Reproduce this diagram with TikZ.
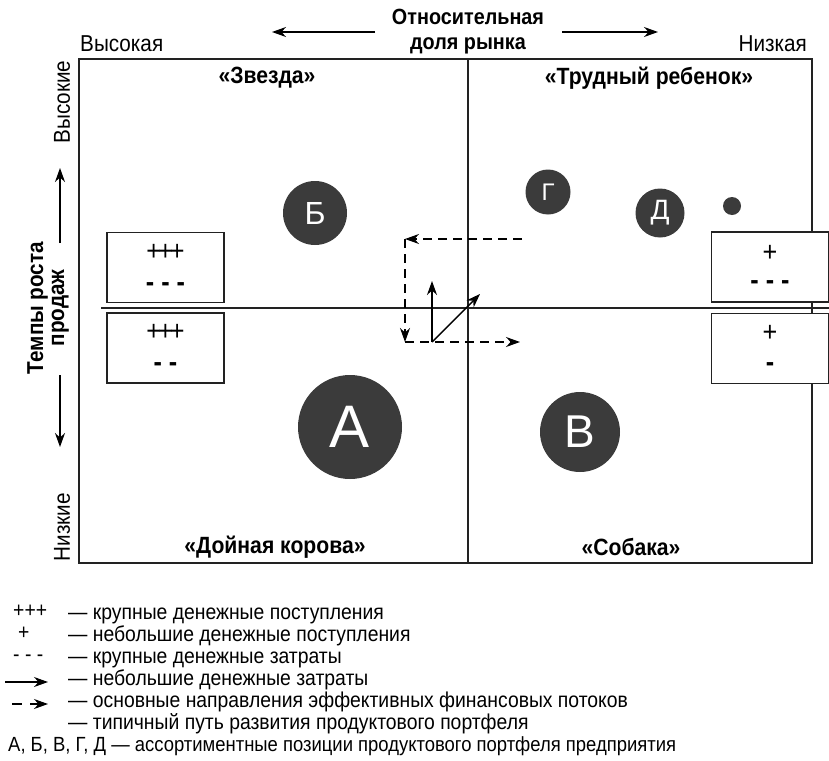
\documentclass[tikz,border=0pt]{standalone}
\usepackage{fontspec}
\setmainfont{Liberation Sans}[FakeStretch=0.9]
\newfontfamily\letterfont{Liberation Sans}
\usetikzlibrary{arrows.meta}
\definecolor{posFill}{HTML}{3B3B3B}
\definecolor{lineDraw}{HTML}{222222}
\tikzset{
  x=1pt, y=-1pt,
  every node/.style={inner sep=0pt},
  quad/.style ={font=\bfseries\fontsize{23.5}{26}\selectfont},
  axis/.style ={font=\fontsize{23}{26}\selectfont},
  posnode/.style={circle, fill=posFill, text=white, font=\letterfont},
  cash/.style ={draw=lineDraw, line width=0.6mm, fill=white, align=center,
                minimum width=117pt, minimum height=70pt, font=\fontsize{28}{31}\selectfont},
  legend/.style={anchor=west, text height=11pt, text depth=4pt, font=\fontsize{21.5}{22}\selectfont},
  arr/.style  ={-{Stealth[length=14pt, width=10pt]}, line width=0.5mm},
  flow/.style ={-{Stealth[length=14pt, width=10pt]}, line width=0.45mm, dash pattern=on 9pt off 6pt},
}
\begin{document}
\begin{tikzpicture}
  \useasboundingbox (0,0) rectangle (829,760);

  % matrix frame
  \draw[lineDraw, line width=0.45mm] (79,59) rectangle (812,563);
  \draw[lineDraw, line width=0.45mm] (468,59) -- (468,563);
  \draw[lineDraw, line width=0.45mm] (101,308) -- (829,308);

  % axes
  \node[font=\bfseries\fontsize{22}{25}\selectfont, align=center] (share) at (468,32) {Относительная\\доля рынка};
  \coordinate (shl0) at (375,32); \coordinate (shl1) at (272,32);
  \coordinate (shr0) at (562,32); \coordinate (shr1) at (658,32);
  \draw[arr] (shl0) -- (shl1);
  \draw[arr] (shr0) -- (shr1);
  \node[axis, anchor=west] (high) at (80,44) {Высокая};
  \node[axis, anchor=east] (low)  at (807,44) {Низкая};

  \node[font=\bfseries\fontsize{23}{21}\selectfont, align=center, rotate=90] (growth) at (48,308) {Темпы роста\\продаж};
  \coordinate (gru0) at (60,243); \coordinate (gru1) at (60,168);
  \coordinate (grd0) at (60,375); \coordinate (grd1) at (60,447);
  \draw[arr] (gru0) -- (gru1);
  \draw[arr] (grd0) -- (grd1);
  \node[axis, rotate=90] (ghigh) at (62,102) {Высокие};
  \node[axis, rotate=90] (glow)  at (62,527) {Низкие};

  % quadrants
  \node[quad] (star)  at (267,78)  {«Звезда»};
  \node[quad] (child) at (649,78)  {«Трудный ребенок»};
  \node[quad] (cow)   at (275,547) {«Дойная корова»};
  \node[quad] (dog)   at (631,547) {«Собака»};

  % cash boxes
  \node[cash] (starbox)  at (165.5,267.5) {+\kern-3pt+\kern-3pt+\\\textbf{- - -}};
  \node[cash] (cowbox)   at (165.5,348)   {+\kern-3pt+\kern-3pt+\\\textbf{- -}};
  \node[cash, font=\fontsize{28}{28}\selectfont] (childbox) at (770,267) {+\\\textbf{- - -}};
  \node[cash, font=\fontsize{28}{30}\selectfont] (dogbox)   at (770,348.5) {+\\\textbf{-}};

  % portfolio positions
  \node[posnode, minimum size=104pt, font=\letterfont\fontsize{60}{60}\selectfont] (posA) at (350,427) {А};
  \node[posnode, minimum size=64pt,  font=\letterfont\fontsize{32}{32}\selectfont] (posB) at (315,213) {Б};
  \node[posnode, minimum size=80pt,  font=\letterfont\fontsize{46}{46}\selectfont] (posV) at (580,432) {В};
  \node[posnode, minimum size=45pt,  font=\letterfont\fontsize{24}{24}\selectfont] (posG) at (548,192) {Г};
  \node[posnode, minimum size=49pt,  font=\letterfont\fontsize{28}{28}\selectfont] (posD) at (660,213) {Д};
  \node[posnode, minimum size=18pt] (posE) at (732,206) {};

  % financial flows
  \coordinate (fl0) at (522,239);
  \coordinate (fl1) at (405,239);
  \coordinate (fl2) at (405,342);
  \coordinate (fl3) at (520,342);
  \coordinate (pth0) at (432,342);
  \coordinate (pth1) at (432,281);
  \coordinate (pth2) at (480,294);
  \draw[flow] (fl0) -- (fl1);
  \draw[flow] (fl1) -- (fl2);
  \draw[flow] (fl2) -- (fl3);
  \draw[arr] (pth0) -- (pth1);
  \draw[arr] (pth0) -- (pth2);

  % legend
  \node[legend] (lg1) at (68,616) {— крупные денежные поступления};
  \node[legend] (lg2) at (68,638) {— небольшие денежные поступления};
  \node[legend] (lg3) at (68,660) {— крупные денежные затраты};
  \node[legend] (lg4) at (68,682) {— небольшие денежные затраты};
  \node[legend] (lg5) at (68,704) {— основные направления эффективных финансовых потоков};
  \node[legend] (lg6) at (68,726) {— типичный путь развития продуктового портфеля};
  \node[legend, font=\fontsize{20.5}{22}\selectfont] (lg7) at (8,748) {А, Б, В, Г, Д — ассортиментные позиции продуктового портфеля предприятия};
  \node[legend] (sy1) at (13,614) {+++};
  \node[legend] (sy2) at (18,636) {+};
  \node[legend] (sy3) at (13,658) {- - -};
  \coordinate (sy4a) at (5,682);  \coordinate (sy4b) at (48,682);
  \coordinate (sy5a) at (12,704); \coordinate (sy5b) at (48,704);
  \draw[arr, line width=0.4mm] (sy4a) -- (sy4b);
  \draw[-{Stealth[length=14pt, width=10pt]}, line width=0.4mm, dash pattern=on 10pt off 8pt] (sy5a) -- (sy5b);
\end{tikzpicture}
\end{document}
